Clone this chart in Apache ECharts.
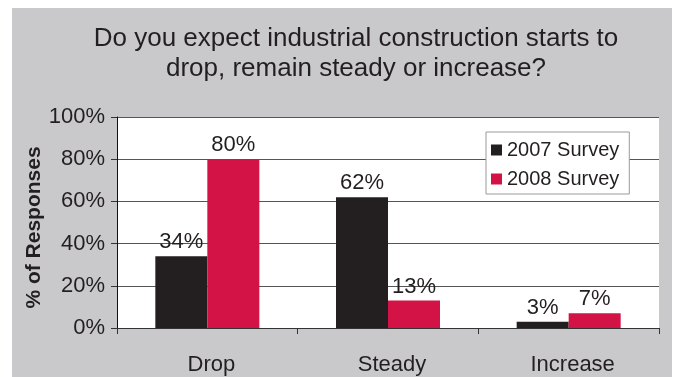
<!DOCTYPE html>
<html>
<head>
<meta charset="utf-8">
<script src="https://cdn.jsdelivr.net/npm/echarts@6/dist/echarts.min.js"></script>
<style>
html,body{margin:0;padding:0;background:#ffffff;}
#chart{width:675px;height:377px;}
</style>
</head>
<body>
<div id="chart"></div>
<script>
const categories = ['Drop', 'Steady', 'Increase'];
const survey2007 = [34, 62, 3];
const survey2008 = [80, 13, 7];
const seriesNames = ['2007 Survey', '2008 Survey'];
const yTicks = [0, 20, 40, 60, 80, 100];
const titleText = 'Do you expect industrial construction starts to\ndrop, remain steady or increase?';
const yAxisTitle = '% of Responses';

const FONT = '"Liberation Sans", Arial, Helvetica, sans-serif';
const TXT = '#231f20';

const chart = echarts.init(document.getElementById('chart'), null, {renderer: 'canvas'});
const labelCfg = {
  show: true, position: 'top', distance: 3,
  formatter: p => p.value + '%',
  fontFamily: FONT, fontSize: 22, color: TXT
};
chart.setOption({
  backgroundColor: '#ffffff',
  animation: false,
  graphic: [{
    type: 'rect', z: -100, silent: true,
    shape: {x: 12, y: 8, width: 660, height: 369},
    style: {fill: '#c9c9cb'}
  }],
  title: {
    text: titleText,
    left: 356, top: 24, textAlign: 'center', padding: 0,
    textStyle: {fontFamily: FONT, fontSize: 26, fontWeight: 'normal', color: TXT, lineHeight: 30}
  },
  legend: {
    orient: 'vertical', left: 486, top: 132,
    data: seriesNames,
    backgroundColor: '#ffffff', borderColor: '#999999', borderWidth: 1, borderRadius: 0,
    padding: [6, 10, 3, 5], itemGap: 5, itemWidth: 11, itemHeight: 11,
    icon: 'rect',
    textStyle: {fontFamily: FONT, fontSize: 20, color: TXT, lineHeight: 24, padding: [0, 0, 0, 0]}
  },
  grid: {
    left: 117, right: 16, top: 117, bottom: 49,
    show: true, backgroundColor: '#ffffff', borderWidth: 0
  },
  xAxis: {
    type: 'category', data: categories,
    axisLine: {lineStyle: {color: '#333', width: 1}},
    axisTick: {show: true, length: 6, lineStyle: {color: '#333'}},
    axisLabel: {margin: 26, fontFamily: FONT, fontSize: 22, color: TXT, padding: [0, 0, 0, 8]}
  },
  yAxis: {
    type: 'value', min: yTicks[0], max: yTicks[yTicks.length - 1], interval: yTicks[1] - yTicks[0],
    name: yAxisTitle, nameLocation: 'middle', nameRotate: 90, nameGap: 72, nameMoveOverlap: false,
    nameTextStyle: {fontFamily: FONT, fontSize: 21, fontWeight: 'bold', color: TXT, padding: [0, 10, 0, 0]},
    axisLine: {show: true, lineStyle: {color: '#111', width: 1}},
    axisTick: {show: true, length: 6, lineStyle: {color: '#333'}},
    splitLine: {show: true, lineStyle: {color: '#555', width: 1}},
    axisLabel: {margin: 12, fontFamily: FONT, fontSize: 22, color: TXT, formatter: v => v + '%'}
  },
  series: [
    {name: seriesNames[0], type: 'bar', data: survey2007, barWidth: 52, barGap: '0%',
     itemStyle: {color: '#231f20'}, label: labelCfg},
    {name: seriesNames[1], type: 'bar', data: survey2008, barWidth: 52, barGap: '0%',
     itemStyle: {color: '#d31245'}, label: labelCfg}
  ]
});
</script>
</body>
</html>
